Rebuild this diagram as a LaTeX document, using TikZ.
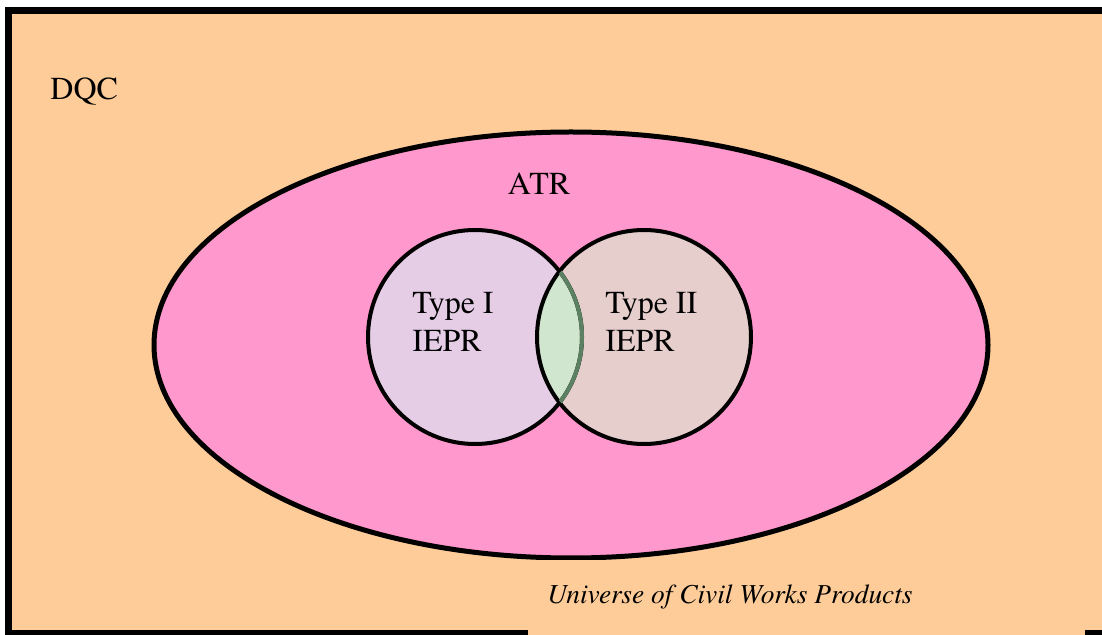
\documentclass[tikz,border=0pt]{standalone}
\usepackage{fontspec}
\newfontfamily\diagfont{texgyretermes}[Extension=.otf, UprightFont=*-regular, ItalicFont=*-italic]
\definecolor{peach}{RGB}{254,204,153}
\definecolor{atrpink}{RGB}{255,152,204}
\definecolor{typeone}{RGB}{229,205,230}
\definecolor{typetwo}{RGB}{230,206,204}
\definecolor{lens}{RGB}{208,230,206}
\definecolor{lensline}{RGB}{92,128,98}
\begin{document}
\begin{tikzpicture}[x=0.5pt, y=-0.5pt,
    lbl/.style={inner sep=0pt, font=\diagfont\fontsize{16}{19}\selectfont}]
    \useasboundingbox (0,0) rectangle (1102,635);
    \coordinate (E) at (571,345);
    \coordinate (L) at (475,337);
    \coordinate (R) at (644,337);

    \draw[line width=3.5pt, fill=peach] (8.5,11) rectangle (1115,633);
    \draw[line width=2.5pt, fill=atrpink] (E) ellipse [x radius=417, y radius=213];

    \fill[typeone] (L) circle (107);
    \fill[typetwo] (R) circle (107);
    \begin{scope}
        \clip (L) circle (107);
        \fill[lens] (R) circle (107);
    \end{scope}
    \draw[line width=2pt] (L) circle (107);
    \draw[line width=2pt] (R) circle (107);
    \begin{scope}
        \clip (R) circle (106);
        \draw[line width=2pt, lensline] (L) circle (107);
    \end{scope}

    \fill[peach] (528,560) rectangle (1085,640);

    \node[lbl, anchor=base west] (dqc) at (50,100) {DQC};
    \node[lbl, anchor=base] (atr) at (539,195) {ATR};
    \node[lbl, anchor=north west, align=left] (type1) at (412,292) {Type I\\IEPR};
    \node[lbl, anchor=north west, align=left] (type2) at (605,292) {Type II\\IEPR};
    \node[lbl, anchor=base west, font=\diagfont\fontsize{13.7}{16}\selectfont\itshape] (univ) at (547,603) {Universe of Civil Works Products};
\end{tikzpicture}
\end{document}
